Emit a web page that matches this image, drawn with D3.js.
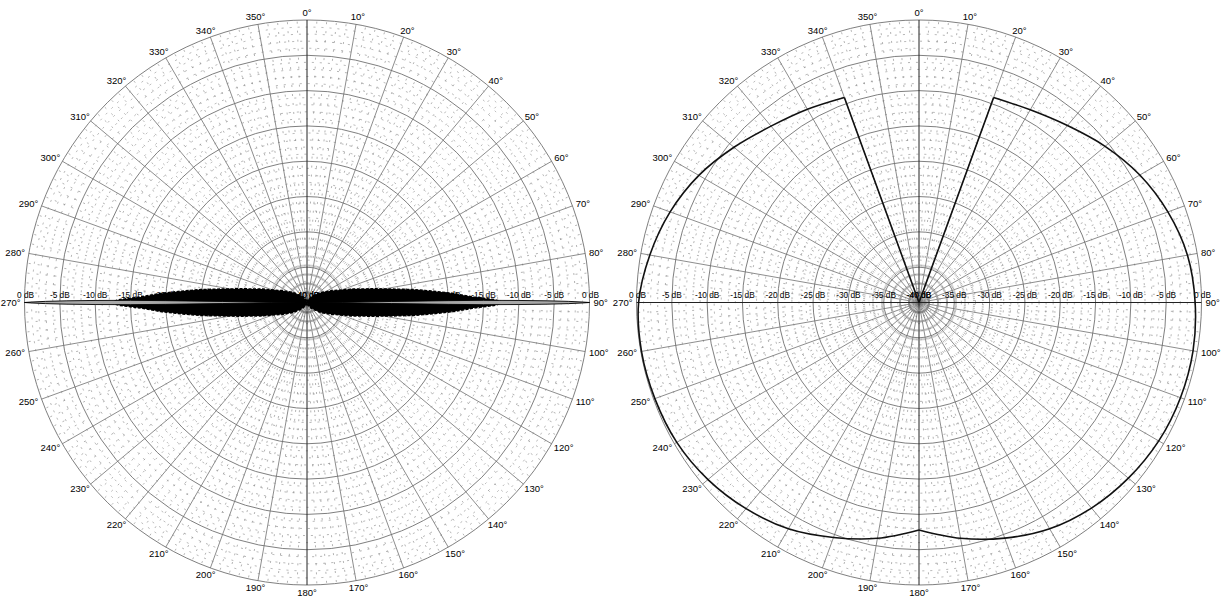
<!DOCTYPE html>
<html><head><meta charset="utf-8">
<script src="https://cdn.jsdelivr.net/npm/d3@7"></script>
<style>
body{margin:0;background:#fff}
text{font-family:"Liberation Sans",Arial,Helvetica,sans-serif;fill:#000}
</style>
</head><body>
<svg id="chart" width="1225" height="599"></svg>
<script>
// ---------- data ----------
const ringLevels = [0, -5, -10, -15, -20, -25, -30, -35, -40];
const ringLabels = ["0 dB", "-5 dB", "-10 dB", "-15 dB", "-20 dB", "-25 dB", "-30 dB", "-35 dB", "-40 dB"];
const angleTicks = [0,10,20,30,40,50,60,70,80,90,100,110,120,130,140,150,160,170,180,190,200,210,220,230,240,250,260,270,280,290,300,310,320,330,340,350];
const angleLabels = ["0°","10°","20°","30°","40°","50°","60°","70°","80°","90°","100°","110°","120°","130°","140°","150°","160°","170°","180°","190°","200°","210°","220°","230°","240°","250°","260°","270°","280°","290°","300°","310°","320°","330°","340°","350°"];

// left chart: narrow bidirectional beam (90° / 270°)
const beamDirections = [90, 270];
// side-lobe envelope (offset from beam axis in degrees, level in dB)
const envOffset = [0, 0.9, 1.9, 3.5, 5.1, 6.9, 8.9, 11.8, 16.5, 26, 36, 52, 70, 90];
const envDb     = [-12.1, -13.5, -16.4, -19.2, -22, -24.8, -27.7, -30.5, -33.3, -36.2, -37.6, -38.9, -39.6, -40];
// main lobe
const mainOffset = [0, 0.1, 0.25, 0.4, 0.55, 0.7, 0.75, 0.7, 0.5, 0];
const mainDb     = [0, -1, -3, -6, -10, -15, -20, -28, -35, -40];

// right chart: wide pattern with a notch around 0°
const patAnglesA = [20, 30, 40, 50, 60, 70, 80, 90, 100, 110, 120, 130, 140, 150, 160, 170, 180];
const patDbA     = [-9.1, -8.5, -7.3, -5.6, -3.9, -2.5, -1.4, -0.9, -0.6, -0.6, -0.8, -1.3, -2.0, -3.0, -4.5, -6.1, -7.8];
const patAnglesB = [180, 190, 200, 210, 220, 230, 240, 250, 260, 270, 280, 290, 300, 310, 320, 330, 340];
const patDbB     = [-7.8, -6.1, -4.6, -3.0, -1.9, -1.0, -0.4, -0.2, -0.1, -0.3, -1.3, -2.5, -4.0, -5.8, -7.4, -8.4, -9.1];
const notchAngles = [20, 340];
const notchDb = [-9.1, -9.1];

// ---------- drawing ----------
const svg = d3.select("#chart");
const R = 282.5, CY = 302.5;
const rScale = d3.scaleLinear().domain([-40, 0]).range([0, R]);
const rad = d => d * Math.PI / 180;

function drawGrid(cx) {
  const g = svg.append("g").attr("transform", `translate(${cx},${CY})`);
  const minorRings = d3.range(-39, 0, 1).filter(v => v % 5 !== 0);
  g.selectAll(".mr").data(minorRings).join("circle")
    .attr("r", d => rScale(d)).attr("fill", "none")
    .attr("stroke", "#808080").attr("stroke-width", 0.6).attr("stroke-dasharray", "2,6");
  const minorAngles = d3.range(0, 360, 2).filter(a => a % 10 !== 0);
  g.selectAll(".ma").data(minorAngles).join("line")
    .attr("x1", 0).attr("y1", 0)
    .attr("x2", a => R * Math.sin(rad(a))).attr("y2", a => -R * Math.cos(rad(a)))
    .attr("stroke", "#808080").attr("stroke-width", 0.6).attr("stroke-dasharray", "2,7");
  g.selectAll(".Mr").data(ringLevels.filter(v => v > -40)).join("circle")
    .attr("r", d => rScale(d)).attr("fill", "none")
    .attr("stroke", "#707070").attr("stroke-width", 0.9);
  g.selectAll(".Ma").data(angleTicks.filter(a => a % 90 !== 0)).join("line")
    .attr("x1", 0).attr("y1", 0)
    .attr("x2", a => R * Math.sin(rad(a))).attr("y2", a => -R * Math.cos(rad(a)))
    .attr("stroke", "#707070").attr("stroke-width", 0.8);
  g.selectAll(".ax").data(angleTicks.filter(a => a % 90 === 0)).join("line")
    .attr("x1", 0).attr("y1", 0)
    .attr("x2", a => R * Math.sin(rad(a))).attr("y2", a => -R * Math.cos(rad(a)))
    .attr("stroke", "#222").attr("stroke-width", 1);
  [-1, 1].forEach(side => {
    g.selectAll(null).data(ringLevels).join("text")
      .attr("x", (d, i) => side * rScale(d) + (i === 0 ? 1 : 0))
      .attr("y", -5)
      .attr("text-anchor", "middle")
      .attr("font-size", 8.3)
      .text((d, i) => ringLabels[i]);
  });
  const lab = g.selectAll(".al").data(angleTicks).join("text")
    .attr("font-size", 9.5).text((d, i) => angleLabels[i]);
  lab.each(function(a) {
    const w = this.getComputedTextLength();
    const h = 6.9;
    const s = Math.sin(rad(a)), c = Math.cos(rad(a));
    const px = (R + 4) * s, py = -(R + 4) * c;
    d3.select(this).attr("x", px + (s - 1) * w / 2).attr("y", py + (1 - c) * h / 2);
  });
  return g;
}

const gL = drawGrid(307);
const gR = drawGrid(919);

// left pattern
beamDirections.forEach(dir => {
  const pts = [];
  for (let i = envOffset.length - 1; i >= 0; i--) pts.push([rad(dir - envOffset[i]), rScale(envDb[i])]);
  for (let i = 1; i < envOffset.length; i++) pts.push([rad(dir + envOffset[i]), rScale(envDb[i])]);
  gL.append("path")
    .attr("d", d3.lineRadial().curve(d3.curveLinearClosed)(pts))
    .attr("fill", "#000").attr("stroke", "#000").attr("stroke-width", 1.5)
    .attr("stroke-linejoin", "round").attr("stroke-dasharray", "3,1.5");
  const mp = [];
  for (let i = mainOffset.length - 1; i >= 0; i--) mp.push([rad(dir - mainOffset[i]), rScale(mainDb[i])]);
  for (let i = 1; i < mainOffset.length; i++) mp.push([rad(dir + mainOffset[i]), rScale(mainDb[i])]);
  gL.append("path")
    .attr("d", d3.lineRadial().curve(d3.curveLinearClosed)(mp))
    .attr("fill", "#a8a8a8").attr("stroke", "#000").attr("stroke-width", 0.9);
});

// right pattern
[[patAnglesA, patDbA], [patAnglesB, patDbB]].forEach(([angs, dbs]) => {
  const pts = angs.map((a, i) => [rad(a), rScale(dbs[i])]);
  gR.append("path")
    .attr("d", d3.lineRadial().curve(d3.curveCatmullRom)(pts))
    .attr("fill", "none").attr("stroke", "#111").attr("stroke-width", 1.6);
});
notchAngles.forEach((a, i) => {
  gR.append("path")
    .attr("d", d3.lineRadial()([[rad(a), rScale(-40)], [rad(a), rScale(notchDb[i])]]))
    .attr("fill", "none").attr("stroke", "#111").attr("stroke-width", 1.6);
});
</script>
</body></html>
